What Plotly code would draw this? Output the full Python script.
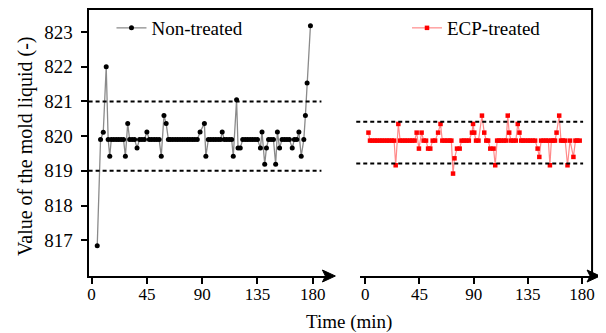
import plotly.graph_objects as go

# ---------------- data ----------------
NT_TIME = [4.6, 7.3, 9.5, 11.9, 13.5, 14.8, 16, 18, 20, 22, 24, 26, 27.5, 29.4, 31, 33, 35, 37, 39,
           41, 43, 45, 47, 49, 51, 53, 55, 56.7, 58.9, 60.7, 62.5, 64, 66, 68, 70, 72, 74, 76, 78,
           80, 82, 84, 86, 88.3, 91.8, 93, 95, 97, 99, 101, 103, 105, 106.3, 108, 110, 112, 114,
           115.3, 118, 119.2, 121, 123, 125, 127, 129, 131, 133, 135, 137.4, 138.7, 140.9, 142.3,
           144, 146, 148, 149.8, 151.2, 153, 155, 157, 159, 161, 163.3, 165, 167, 168.7, 170.6,
           172.7, 174, 175.4, 178.1]
NT_VALUE = [816.84, 819.9, 820.11, 822.0, 819.9, 819.42, 819.9, 819.9, 819.9, 819.9, 819.9, 819.9,
            819.42, 820.36, 819.9, 819.9, 819.9, 819.66, 819.9,
            819.9, 819.9, 820.12, 819.9, 819.9, 819.9, 819.9, 819.9, 819.42, 820.59, 820.36, 819.9,
            819.9, 819.9, 819.9, 819.9, 819.9, 819.9, 819.9, 819.9,
            819.9, 819.9, 819.9, 819.9, 820.12, 820.36, 819.42, 819.9, 819.9, 819.9, 819.9, 819.9,
            819.9, 820.12, 819.9, 819.9, 819.9, 819.9,
            819.42, 821.05, 819.66, 819.66, 819.9, 819.9, 819.9, 819.9, 819.9, 819.9, 819.9,
            819.66, 820.12, 819.19, 819.66,
            819.9, 819.9, 819.9, 819.19, 820.12, 819.66, 819.9, 819.9, 819.9, 819.9, 819.66,
            819.9, 819.9, 820.12, 819.42,
            819.9, 820.59, 821.53, 823.18]

ECP_TIME = [2.7, 4, 6, 8, 10, 12, 14, 16, 18, 20, 22, 24, 25.3, 27.5, 29, 31, 33, 35, 37, 39, 41,
            42.7, 44.6, 46.8, 48.5, 50.5, 52.2, 54, 56, 58, 60.5, 62.5, 64, 66, 68, 70, 71.5,
            72.9, 74.1, 76.2, 78.4, 80, 82, 84, 86, 88.6, 89.5, 90.5, 92, 94, 96.9, 98.8, 100.5,
            102, 103.8, 106.5, 107.9, 109.5, 111, 113, 115, 117, 118.3, 119.5, 121, 123, 125,
            126.6, 128, 129.5, 131, 133, 135, 137, 139, 141, 143.1, 144.5, 146, 148, 150, 152,
            153.3, 154.5, 156, 157.5, 158.8, 161, 162.5, 164, 166, 167.9, 170, 172.8, 174.5,
            176, 178]
ECP_VALUE = [820.10, 819.87, 819.87, 819.87, 819.87, 819.87, 819.87, 819.87, 819.87, 819.87,
             819.87, 819.87, 819.16, 820.35, 819.87, 819.87, 819.87, 819.87, 819.87, 819.87,
             819.87, 820.10, 819.64, 820.10, 819.87, 819.87, 819.64, 819.64, 819.87, 819.87,
             820.10, 820.35, 819.87, 819.87, 819.87, 819.87, 819.87,
             818.92, 819.36, 819.64, 819.64, 819.87, 819.87, 819.87, 819.87, 820.10, 820.35,
             820.10, 819.87, 819.87, 820.59, 820.10, 819.87,
             819.87, 819.64, 819.64, 819.16, 819.87, 819.87, 819.87, 819.87, 819.87, 820.59,
             820.10, 819.87, 819.87, 819.87,
             820.35, 820.10, 819.87, 819.87, 819.87, 819.87, 819.87, 819.87, 819.87, 819.64,
             819.40, 819.87, 819.87, 819.87, 819.87,
             819.16, 819.87, 819.87, 819.87, 820.10, 820.59, 819.87, 819.87, 819.87, 819.16,
             819.87, 819.40, 819.87, 819.87, 819.87]

NT_LIMITS = [819.0, 821.0]
ECP_LIMITS = [819.21, 820.41]
X_TICKS = [0, 45, 90, 135, 180]
Y_TICKS = [817, 818, 819, 820, 821, 822, 823]
Y_RANGE = [815.97, 823.69]

# ---------------- layout helpers (page-pixel geometry) ----------------
OFF = 8                      # default page body margin
W, H = 606 - OFF, 333 - OFF
def px(x):
    return (x - OFF) / W
def py(y):
    return 1 - (y - OFF) / H

FONT = "Times New Roman, Liberation Serif, serif"
TOP, BOTTOM = 8, 276
L_LEFT, L_RIGHT, L_X0, L_S = 88, 330, 91, 1.235
R_LEFT, R_RIGHT, R_X0, R_S = 361, 595, 366, 1.211

fig = go.Figure()
fig.add_trace(go.Scatter(
    x=NT_TIME, y=NT_VALUE, name="Non-treated", mode="lines+markers",
    line=dict(color="#8a8a8a", width=1.3),
    marker=dict(color="black", size=5, symbol="circle"),
    xaxis="x", yaxis="y", legend="legend", cliponaxis=False))
fig.add_trace(go.Scatter(
    x=ECP_TIME, y=ECP_VALUE, name="ECP-treated", mode="lines+markers",
    line=dict(color="#ff8a8a", width=1.2),
    marker=dict(color="#ff0000", size=4.5, symbol="square"),
    xaxis="x2", yaxis="y", legend="legend2", cliponaxis=False))

shapes = []
for v in NT_LIMITS:
    shapes.append(dict(type="line", xref="paper", yref="y", x0=px(88), x1=px(322), y0=v, y1=v,
                       line=dict(color="black", width=2, dash="4px,3px")))
for v in ECP_LIMITS:
    shapes.append(dict(type="line", xref="paper", yref="y", x0=px(357), x1=px(585), y0=v, y1=v,
                       line=dict(color="black", width=2, dash="4px,3px")))
shapes.append(dict(type="line", xref="paper", yref="paper", x0=px(88), x1=px(595),
                   y0=py(TOP + 1), y1=py(TOP + 1), line=dict(color="black", width=2)))
shapes.append(dict(type="line", xref="paper", yref="paper", x0=px(594), x1=px(594),
                   y0=py(TOP), y1=py(BOTTOM), line=dict(color="black", width=2)))
for tip in (336, 602):
    shapes.append(dict(type="path", xref="paper", yref="paper",
                       path=f"M {px(tip)} {py(BOTTOM)} L {px(tip-13)} {py(BOTTOM-6)} "
                            f"L {px(tip-10)} {py(BOTTOM)} L {px(tip-13)} {py(BOTTOM+6)} Z",
                       fillcolor="black", line=dict(color="black", width=1)))

axis_common = dict(showline=True, linecolor="black", linewidth=2, ticks="outside", ticklen=6,
                   tickwidth=1.5, tickcolor="black", showgrid=False, zeroline=False)

fig.update_layout(
    width=W, height=H, margin=dict(l=0, r=0, t=0, b=0),
    paper_bgcolor="white", plot_bgcolor="white",
    font=dict(family=FONT, color="black"),
    xaxis=dict(domain=[px(L_LEFT), px(L_RIGHT)],
               range=[(L_LEFT - L_X0) / L_S, (L_RIGHT - L_X0) / L_S],
               tickvals=X_TICKS, anchor="y", ticklabelstandoff=-4,
               tickfont=dict(family=FONT, size=17, color="black"), **axis_common),
    xaxis2=dict(domain=[px(R_LEFT), px(R_RIGHT)],
                range=[(R_LEFT - R_X0) / R_S, (R_RIGHT - R_X0) / R_S],
                tickvals=X_TICKS, anchor="y", ticklabelstandoff=-4,
                tickfont=dict(family=FONT, size=17, color="black"), **axis_common),
    yaxis=dict(domain=[py(BOTTOM), py(TOP)], range=Y_RANGE, tickvals=Y_TICKS,
               anchor="x", ticklabelstandoff=4,
               tickfont=dict(family=FONT, size=19, color="black"), **axis_common),
    shapes=shapes,
    showlegend=True,
    legend=dict(x=px(111), y=py(28), xanchor="left", yanchor="middle",
                font=dict(family=FONT, size=19, color="black"), bgcolor="rgba(0,0,0,0)"),
    legend2=dict(x=px(408), y=py(28), xanchor="left", yanchor="middle",
                 font=dict(family=FONT, size=19, color="black"), bgcolor="rgba(0,0,0,0)"),
    annotations=[
        dict(text="Value of the mold liquid (-)", xref="paper", yref="paper", x=px(24),
             y=py(146), xanchor="center", yanchor="middle", textangle=-90, showarrow=False,
             font=dict(family=FONT, size=20)),
        dict(text="Time (min)", xref="paper", yref="paper", x=px(350), y=py(322),
             xanchor="center", yanchor="middle", showarrow=False,
             font=dict(family=FONT, size=19)),
    ],
)

fig.write_html("out.html")
